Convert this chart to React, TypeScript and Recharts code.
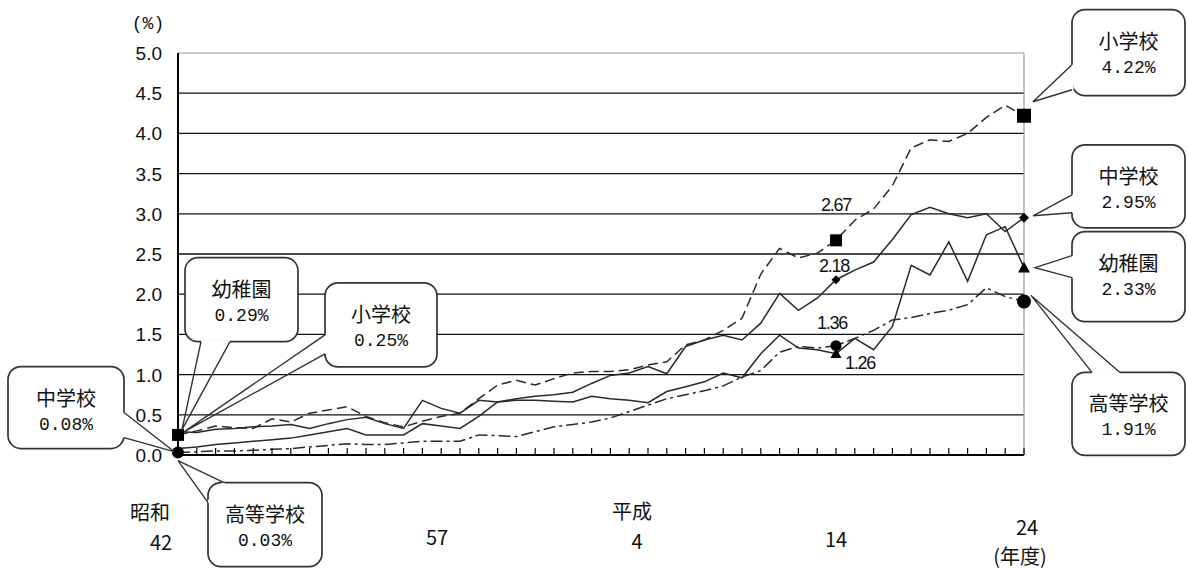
import React from 'react';
import { LineChart, Line, XAxis, YAxis, ReferenceLine, ReferenceDot } from 'recharts';

// 年度 (昭和42〜平成24)
const fiscalYears = [
  1967, 1968, 1969, 1970, 1971, 1972, 1973, 1974, 1975, 1976,
  1977, 1978, 1979, 1980, 1981, 1982, 1983, 1984, 1985, 1986,
  1987, 1988, 1989, 1990, 1991, 1992, 1993, 1994, 1995, 1996,
  1997, 1998, 1999, 2000, 2001, 2002, 2003, 2004, 2005, 2006,
  2007, 2008, 2009, 2010, 2011, 2012,
];

// 学校種別の割合 (%)
const kindergarten = [
  0.29, 0.28, 0.32, 0.33, 0.35, 0.36, 0.38, 0.33, 0.39, 0.44,
  0.47, 0.39, 0.33, 0.68, 0.58, 0.52, 0.68, 0.66, 0.68, 0.68,
  0.67, 0.66, 0.73, 0.70, 0.68, 0.65, 0.79, 0.85, 0.91, 1.02,
  0.96, 1.26, 1.49, 1.33, 1.31, 1.26, 1.45, 1.31, 1.60, 2.36,
  2.24, 2.65, 2.16, 2.74, 2.84, 2.33,
];
const elementary = [
  0.25, 0.30, 0.36, 0.34, 0.33, 0.45, 0.41, 0.52, 0.56, 0.60,
  0.48, 0.40, 0.35, 0.42, 0.48, 0.52, 0.70, 0.87, 0.93, 0.87,
  0.95, 1.02, 1.04, 1.04, 1.06, 1.12, 1.16, 1.37, 1.43, 1.55,
  1.70, 2.25, 2.57, 2.45, 2.51, 2.67, 2.92, 3.06, 3.35, 3.82,
  3.92, 3.90, 4.00, 4.20, 4.35, 4.22,
];
const juniorHigh = [
  0.08, 0.10, 0.13, 0.15, 0.17, 0.19, 0.21, 0.25, 0.29, 0.33,
  0.25, 0.25, 0.25, 0.39, 0.36, 0.33, 0.48, 0.66, 0.70, 0.73,
  0.75, 0.78, 0.89, 0.99, 1.02, 1.10, 1.01, 1.35, 1.43, 1.49,
  1.43, 1.64, 2.01, 1.80, 1.95, 2.18, 2.30, 2.40, 2.68, 2.99,
  3.08, 3.00, 2.95, 3.00, 2.78, 2.95,
];
const highSchool = [
  0.03, 0.04, 0.05, 0.05, 0.06, 0.07, 0.08, 0.10, 0.12, 0.14,
  0.13, 0.13, 0.15, 0.17, 0.17, 0.17, 0.25, 0.24, 0.23, 0.29,
  0.35, 0.38, 0.41, 0.46, 0.54, 0.62, 0.70, 0.75, 0.80, 0.86,
  0.97, 1.05, 1.28, 1.35, 1.33, 1.36, 1.45, 1.55, 1.68, 1.71,
  1.76, 1.80, 1.87, 2.08, 1.97, 1.91,
];

const yTicks = [0, 0.5, 1, 1.5, 2, 2.5, 3, 3.5, 4, 4.5, 5];
const gridValues = [0.5, 1, 1.5, 2, 2.5, 3, 3.5, 4, 4.5];

const eraLabels: Record<number, string[]> = {
  1967: ['昭和', '42'],
  1982: ['57'],
  1992: ['平成', '4'],
  2002: ['14'],
  2012: ['24', '(年度)'],
};

// offsets of the era labels from their tick
const eraLabelPos: Record<number, { dx: number; dy: number }[]> = {
  1967: [{ dx: -28, dy: 65 }, { dx: -17, dy: 95 }],
  1982: [{ dx: -23, dy: 90 }],
  1992: [{ dx: -16, dy: 64 }, { dx: -11, dy: 94 }],
  2002: [{ dx: 0, dy: 92 }],
  2012: [{ dx: 3, dy: 80 }, { dx: -4, dy: 109 }],
};

const LABEL_YEAR = 2002;

type MarkerKind = 'square' | 'diamond' | 'triangle' | 'circle';

interface SeriesDef {
  key: string;
  name: string;
  values: number[];
  dash?: string;
  marker: MarkerKind;
  marks: Record<number, number>;
  valueLabel: { dx: number; dy: number };
}

const series: SeriesDef[] = [
  { key: 'elementary', name: '小学校', values: elementary, dash: '10 5', marker: 'square',
    marks: { 1967: 12, 2002: 12, 2012: 14 }, valueLabel: { dx: 0, dy: -29 } },
  { key: 'juniorHigh', name: '中学校', values: juniorHigh, marker: 'diamond',
    marks: { 2002: 9, 2012: 10 }, valueLabel: { dx: -2, dy: -8 } },
  { key: 'kindergarten', name: '幼稚園', values: kindergarten, marker: 'triangle',
    marks: { 2002: 11, 2012: 12 }, valueLabel: { dx: 24, dy: 15 } },
  { key: 'highSchool', name: '高等学校', values: highSchool, dash: '12 4 3 4', marker: 'circle',
    marks: { 1967: 12, 2002: 11, 2012: 14 }, valueLabel: { dx: -4, dy: -17 } },
];

const rows = fiscalYears.map((year, i) => {
  const row: Record<string, number> = { year };
  series.forEach((s) => { row[s.key] = s.values[i]; });
  return row;
});

// callout boxes: offsets relative to the data point they point at
const callouts = [
  { key: 'kindergarten', year: 1967, box: [7, -174, 113, 84], base: [[23, -90], [52, -90]], tip: [4, -2] },
  { key: 'elementary', year: 1967, box: [147, -152, 112, 84], base: [[147, -100], [147, -81]], tip: [6, -3] },
  { key: 'juniorHigh', year: 1967, box: [-170, -82, 116, 82], base: [[-54, -36], [-54, -11]], tip: [-4, 3] },
  { key: 'highSchool', year: 1967, box: [30, 30, 114, 84], base: [[30, 50], [46, 30]], tip: [0, 8] },
  { key: 'elementary', year: 2012, box: [48, -106, 113, 86], base: [[48, -51], [48, -26]], tip: [9, -14] },
  { key: 'juniorHigh', year: 2012, box: [48, -73, 113, 83], base: [[48, -23], [48, -5]], tip: [9, -2] },
  { key: 'kindergarten', year: 2012, box: [48, -36, 113, 90], base: [[48, -12], [48, 10]], tip: [11, 0] },
  { key: 'highSchool', year: 2012, box: [48, 71, 113, 83], base: [[68, 71], [96, 71]], tip: [7, -6] },
];

const INK = '#111';
const JP_FONT = '"Noto Sans CJK JP", "Noto Sans", sans-serif';

const Marker = ({ kind, cx, cy, size }: { kind: MarkerKind; cx: number; cy: number; size: number }) => {
  const h = size / 2;
  if (kind === 'square') return <rect x={cx - h} y={cy - h} width={size} height={size} fill="#000" />;
  if (kind === 'diamond') {
    return <polygon points={`${cx},${cy - h} ${cx + h},${cy} ${cx},${cy + h} ${cx - h},${cy}`} fill="#000" />;
  }
  if (kind === 'triangle') {
    return <polygon points={`${cx},${cy - h} ${cx + h},${cy + h * 0.8} ${cx - h},${cy + h * 0.8}`} fill="#000" />;
  }
  return <circle cx={cx} cy={cy} r={h} fill="#000" />;
};

const makeDot = (s: SeriesDef) => (props: any) => {
  const { cx, cy, index, payload } = props;
  const year = payload?.year;
  const size = s.marks[year];
  if (!size || cx == null || cy == null) return <g key={`${s.key}-${index}`} />;
  const v = payload[s.key] as number;
  return (
    <g key={`${s.key}-${index}`}>
      <Marker kind={s.marker} cx={cx} cy={cy} size={size} />
      {year === LABEL_YEAR && (
        <text
          x={cx + s.valueLabel.dx}
          y={cy + s.valueLabel.dy}
          textAnchor="middle"
          fontFamily='"Liberation Sans", Arial, sans-serif'
          fontSize={18}
          letterSpacing={-1.2}
          fill={INK}
        >
          {v.toFixed(2)}
        </text>
      )}
    </g>
  );
};

const Callout = (props: any) => {
  const { cx, cy, box, base, tip, title, value } = props;
  const bx = cx + box[0];
  const by = cy + box[1];
  const [bw, bh] = [box[2], box[3]];
  const p1 = [cx + base[0][0], cy + base[0][1]];
  const p2 = [cx + base[1][0], cy + base[1][1]];
  const tx = cx + tip[0];
  const ty = cy + tip[1];
  return (
    <g>
      <rect x={bx} y={by} width={bw} height={bh} rx={13} fill="#fff" stroke="#333" strokeWidth={1.7} />
      <line x1={p1[0]} y1={p1[1]} x2={p2[0]} y2={p2[1]} stroke="#fff" strokeWidth={3} />
      <polyline points={`${p1[0]},${p1[1]} ${tx},${ty} ${p2[0]},${p2[1]}`} fill="none" stroke="#333" strokeWidth={1.4} />
      <text x={bx + bw / 2} y={by + 39} textAnchor="middle" fontFamily={JP_FONT} fontSize={20} fill={INK}>
        {title}
      </text>
      <text x={bx + bw / 2} y={by + 63} textAnchor="middle" fontFamily='"Liberation Mono", monospace' fontSize={18} fill={INK}>
        {value.toFixed(2)}%
      </text>
    </g>
  );
};

const YearTick = (props: any) => {
  const { x, y, payload } = props;
  const labels = eraLabels[payload.value];
  const pos = eraLabelPos[payload.value];
  return (
    <g>
      <line x1={x} y1={y} x2={x} y2={y - 7} stroke="#000" strokeWidth={1.2} />
      {labels &&
        labels.map((t, k) => (
          <text key={k} x={x + pos[k].dx} y={y + pos[k].dy} textAnchor="middle" fontFamily={JP_FONT} fontSize={20} fill={INK}>
            {t}
          </text>
        ))}
    </g>
  );
};

const PercentTick = (props: any) => {
  const { x, y, payload } = props;
  return (
    <text x={x} y={y + 7} textAnchor="end" fontFamily='"Liberation Sans", Arial, sans-serif' fontSize={19} fill={INK}>
      {Number(payload.value).toFixed(1)}
    </text>
  );
};

export default function App() {
  return (
    <div style={{ position: 'absolute', left: 0, top: 0, width: 1187, height: 577, background: '#fff' }}>
      <LineChart width={1187} height={577} data={rows} margin={{ top: 53, right: 163, bottom: 92, left: 118 }}>
        <XAxis
          type="number"
          dataKey="year"
          domain={[1967, 2012]}
          ticks={fiscalYears}
          interval={0}
          height={30}
          tickSize={0}
          tickMargin={0}
          tickLine={false}
          axisLine={{ stroke: '#000', strokeWidth: 2 }}
          tick={<YearTick />}
        />
        <YAxis
          type="number"
          domain={[0, 5]}
          ticks={yTicks}
          interval={0}
          width={60}
          tickSize={0}
          tickMargin={16}
          tickLine={false}
          axisLine={{ stroke: '#000', strokeWidth: 2 }}
          tick={<PercentTick />}
          label={{
            content: (p: any) => (
              <text x={p.viewBox.x + 30} y={p.viewBox.y - 24} textAnchor="middle" fontFamily='"Liberation Mono", monospace' fontSize={18} fill={INK}>
                (%)
              </text>
            ),
          }}
        />
        {gridValues.map((v) => (
          <ReferenceLine key={v} y={v} stroke="#111" strokeWidth={1.3} />
        ))}
        <ReferenceLine y={5} stroke="#9a9a9a" strokeWidth={1.2} />
        <ReferenceLine x={2012} stroke="#9a9a9a" strokeWidth={1.2} />
        {series.map((s) => (
          <Line
            key={s.key}
            type="linear"
            dataKey={s.key}
            name={s.name}
            stroke="#2a2a2a"
            strokeWidth={1.5}
            strokeDasharray={s.dash}
            dot={makeDot(s)}
            activeDot={false}
            isAnimationActive={false}
          />
        ))}
        {callouts.map((c) => {
          const s = series.find((d) => d.key === c.key)!;
          const v = s.values[fiscalYears.indexOf(c.year)];
          return (
            <ReferenceDot
              key={`${c.key}-${c.year}`}
              x={c.year}
              y={v}
              r={0}
              ifOverflow="visible"
              shape={(p: any) => <Callout {...c} cx={p.cx} cy={p.cy} title={s.name} value={v} />}
            />
          );
        })}
      </LineChart>
    </div>
  );
}
